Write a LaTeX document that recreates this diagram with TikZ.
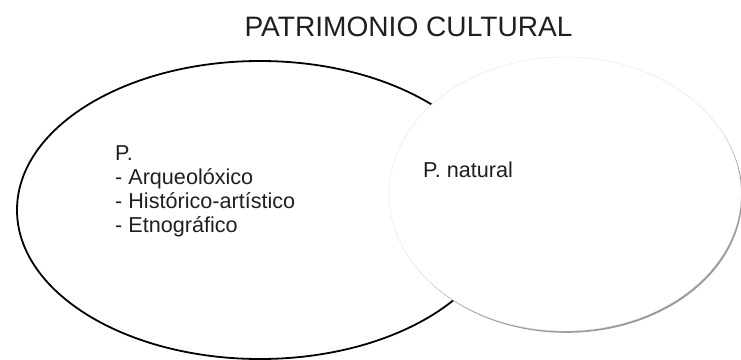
\documentclass[tikz,border=0pt]{standalone}
\usepackage{fontspec}
\setmainfont{Liberation Sans}
\begin{document}
\begin{tikzpicture}[x=1pt,y=-1pt,
  txt/.style={inner sep=0pt, text=black!88},
  bodyfont/.style={font=\fontsize{21.6}{24.2}\selectfont},
  titlefont/.style={font=\fontsize{28.1}{30}\selectfont}]
\useasboundingbox (0,0) rectangle (741,359);
% left ellipse
\draw[line width=1.8pt, black] (260,210) ellipse (243 and 149);
% right ellipse with soft shadow
\fill[gray!80] (566.4,195.8) ellipse (176 and 137);
\filldraw[fill=white, draw=gray!20, line width=0.4pt] (565,194) ellipse (176 and 137);
% texts
\node[txt, titlefont, anchor=base] (title) at (408.5,36.7) {PATRIMONIO CULTURAL};
\node[txt, bodyfont, anchor=base west] (left) at (115,160)
  {\begin{tabular}[t]{@{}l@{}}P.\\- Arqueolóxico\\- Histórico-artístico\\- Etnográfico\end{tabular}};
\node[txt, bodyfont, anchor=base west] (nat) at (423,177.7) {P. natural};
\end{tikzpicture}
\end{document}
